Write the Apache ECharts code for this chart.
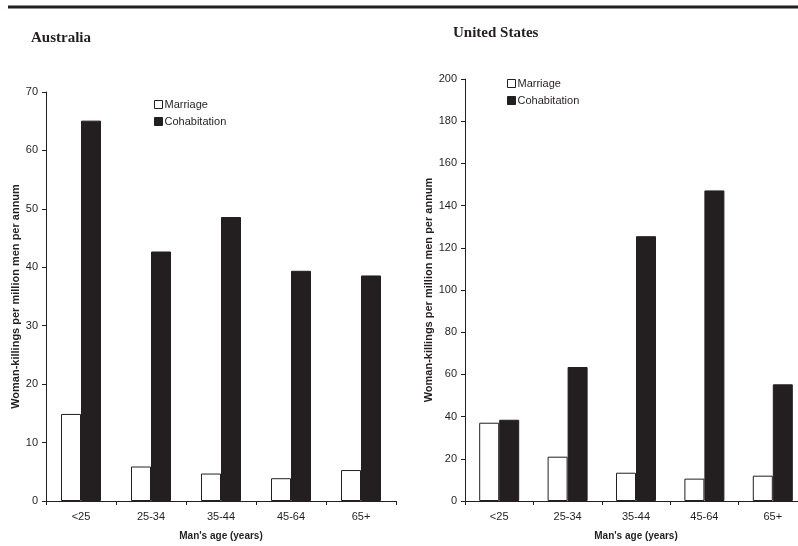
<!DOCTYPE html>
<html><head><meta charset="utf-8">
<script src="https://cdn.jsdelivr.net/npm/echarts@6/dist/echarts.min.js"></script>
<style>html,body{margin:0;padding:0;background:#fff}#c{width:798px;height:546px}</style>
</head><body><div id="c"></div>
<script>
const categories = ['<25', '25-34', '35-44', '45-64', '65+'];
const ausMarriage = [14.9, 5.9, 4.7, 3.9, 5.3];
const ausCohabitation = [65.1, 42.7, 48.6, 39.4, 38.6];
const usMarriage = [37.1, 21.0, 13.4, 10.6, 12.0];
const usCohabitation = [38.5, 63.5, 125.5, 147.2, 55.3];
const yLabel = 'Woman-killings per million men per annum';
const xLabel = "Man's age (years)";

const ink = '#231f20';
const sans = 'Liberation Sans, Arial, sans-serif';
const chart = echarts.init(document.getElementById('c'), null, {renderer: 'canvas'});

function xAxis(gi) {
  return {
    type: 'category', gridIndex: gi, data: categories,
    name: xLabel, nameLocation: 'middle', nameGap: 30,
    nameTextStyle: {fontFamily: sans, fontWeight: 'bold', fontSize: 10, color: ink},
    axisLine: {lineStyle: {color: ink, width: 1}},
    axisTick: {show: true, length: 4, lineStyle: {color: ink}},
    axisLabel: {fontFamily: sans, fontSize: 11, color: ink, margin: 10},
    splitLine: {show: false}
  };
}
function yAxis(gi, max, interval, gap) {
  return {
    type: 'value', gridIndex: gi, min: 0, max: max, interval: interval,
    name: yLabel, nameLocation: 'middle', nameGap: gap, nameRotate: 90,
    nameTextStyle: {fontFamily: sans, fontWeight: 'bold', fontSize: 11, color: ink},
    axisLine: {show: true, lineStyle: {color: ink, width: 1}},
    axisTick: {show: true, length: 4, lineStyle: {color: ink}},
    axisLabel: {fontFamily: sans, fontSize: 11, color: ink, margin: 8},
    splitLine: {show: false}
  };
}
const marriageStyle = {color: '#ffffff', borderColor: ink, borderWidth: 1};
const cohabStyle = {color: ink, borderColor: ink, borderWidth: 1};
function bars(name, data, gi, style) {
  return {
    type: 'bar', name: name, data: data, xAxisIndex: gi, yAxisIndex: gi,
    barWidth: 20, barGap: '0%', itemStyle: style, animation: false,
    emphasis: {disabled: true}
  };
}
const legendData = [
  {name: 'Marriage', itemStyle: marriageStyle},
  {name: 'Cohabitation', itemStyle: cohabStyle}
];
function legend(left, top) {
  return {
    left: left, top: top, orient: 'vertical', icon: 'rect',
    itemWidth: 8, itemHeight: 8, itemGap: 6, padding: 0,
    textStyle: {fontFamily: sans, fontSize: 11, color: ink, padding: [0, 0, 0, -3]},
    data: legendData, selectedMode: false
  };
}

chart.setOption({
  animation: false,
  title: [
    {text: 'Australia', left: 31, top: 31, padding: 0,
     textStyle: {fontFamily: 'Liberation Serif, Times New Roman, serif', fontWeight: 'bold', fontSize: 15, color: ink}},
    {text: 'United States', left: 453, top: 26, padding: 0,
     textStyle: {fontFamily: 'Liberation Serif, Times New Roman, serif', fontWeight: 'bold', fontSize: 15, color: ink}}
  ],
  graphic: [
    {type: 'line', shape: {x1: 8, y1: 7, x2: 798, y2: 7}, style: {stroke: ink, lineWidth: 3}}
  ],
  legend: [legend(154, 99), legend(507, 78)],
  grid: [
    {left: 46, top: 92, width: 350, bottom: 45, outerBoundsMode: 'none'},
    {left: 465, top: 79, width: 342, bottom: 45, outerBoundsMode: 'none'}
  ],
  xAxis: [xAxis(0), xAxis(1)],
  yAxis: [yAxis(0, 70, 10, 25), yAxis(1, 200, 20, 26)],
  series: [
    bars('Marriage', ausMarriage, 0, marriageStyle),
    bars('Cohabitation', ausCohabitation, 0, cohabStyle),
    bars('Marriage', usMarriage, 1, marriageStyle),
    bars('Cohabitation', usCohabitation, 1, cohabStyle)
  ]
});
</script>
</body></html>
